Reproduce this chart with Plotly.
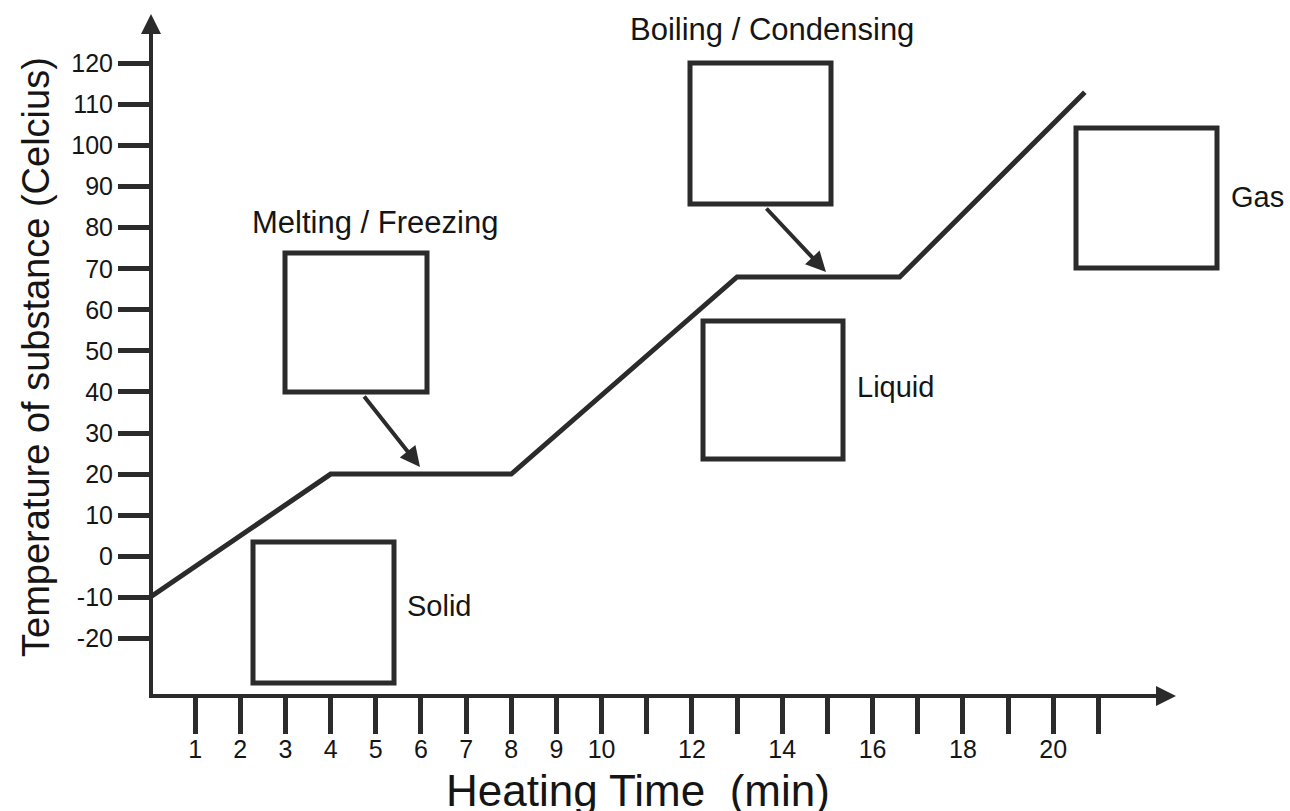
import plotly.graph_objects as go

# ---------------- data ----------------
heating_time = [0, 4, 8, 13, 16.6, 20.7]          # minutes
temperature = [-10, 20, 20, 68, 68, 113]          # degrees Celsius

y_tick_values = [-20, -10, 0, 10, 20, 30, 40, 50, 60, 70, 80, 90, 100, 110, 120]
y_tick_labels = ["-20", "-10", "0", "10", "20", "30", "40", "50", "60", "70", "80",
                 "90", "100", "110", "120"]
x_tick_values = list(range(1, 22))
x_tick_labels = ["1", "2", "3", "4", "5", "6", "7", "8", "9", "10", "", "12", "",
                 "14", "", "16", "", "18", "", "20", ""]

phase_change_labels = ["Melting / Freezing", "Boiling / Condensing"]
state_labels = ["Solid", "Liquid", "Gas"]

# ---------------- layout geometry (pixels) ----------------
W, H = 1290, 811
PLOT_L, PLOT_R, PLOT_T, PLOT_B = 153, 1168, 22, 694
X0_PX, X_PX = 150.0, 45.16      # pixel of t=0, pixels per minute
Y0_PX, Y_PX = 556.25, 4.107     # pixel of 0 C, pixels per degree

def fx(px):
    return (px - X0_PX) / X_PX

def fy(py):
    return (Y0_PX - py) / Y_PX

def paper_x(px):
    return (px - PLOT_L) / (PLOT_R - PLOT_L)

def paper_y(py):
    return (PLOT_B - py) / (PLOT_B - PLOT_T)

INK = "#2b2b2b"
TXT = "#151515"
FONT = "Liberation Sans, Arial, Helvetica, sans-serif"

fig = go.Figure()
fig.add_trace(go.Scatter(
    x=heating_time, y=temperature, mode="lines",
    line=dict(color=INK, width=5), hoverinfo="skip", showlegend=False,
))

# empty answer boxes (pixel rectangles: x0, y0, x1, y1)
boxes_px = [
    (253, 542, 394, 683),   # solid
    (285, 253, 427, 392),   # melting
    (703, 321, 843, 459),   # liquid
    (690, 63, 831, 204),    # boiling
    (1076, 128, 1217, 268), # gas
]
shapes = []
for (x0, y0, x1, y1) in boxes_px:
    shapes.append(dict(type="rect", xref="paper", yref="paper",
                       x0=paper_x(x0), x1=paper_x(x1), y0=paper_y(y1), y1=paper_y(y0),
                       line=dict(color=INK, width=5), fillcolor="rgba(0,0,0,0)"))

annotations = []
# phase change titles
for lab, (px, py) in zip(phase_change_labels, [(375, 222), (772, 30)]):
    annotations.append(dict(x=paper_x(px), y=paper_y(py), xref="paper", yref="paper", text=lab,
                            xanchor="center", yanchor="middle", showarrow=False,
                            font=dict(size=31, color=TXT, family=FONT)))
# state labels
for lab, (px, py) in zip(state_labels, [(405, 606), (855, 387), (1229, 197)]):
    annotations.append(dict(x=paper_x(px), y=paper_y(py), xref="paper", yref="paper", text=lab,
                            xanchor="left", yanchor="middle", showarrow=False,
                            font=dict(size=29, color=TXT, family=FONT)))
# pointer arrows
for (tx, ty, hx, hy) in [(363, 395, 420, 467), (765, 207, 826, 272)]:
    annotations.append(dict(x=fx(hx), y=fy(hy), ax=fx(tx), ay=fy(ty), xref="x", yref="y",
                            axref="x", ayref="y", text="", showarrow=True,
                            arrowhead=2, arrowsize=1, arrowwidth=4, arrowcolor=INK))
# axis arrowheads
annotations.append(dict(x=0, y=1, xref="paper", yref="paper", ax=0, ay=22, text="",
                        showarrow=True, arrowhead=2, arrowsize=1, arrowwidth=4,
                        arrowcolor=INK, yshift=8, xshift=-2))
annotations.append(dict(x=1, y=0, xref="paper", yref="paper", ax=-22, ay=0, text="",
                        showarrow=True, arrowhead=2, arrowsize=1, arrowwidth=4,
                        arrowcolor=INK, xshift=8, yshift=-2))
# axis titles
annotations.append(dict(x=paper_x(638), y=paper_y(790), xref="paper", yref="paper",
                        text="Heating Time  (min)", showarrow=False,
                        xanchor="center", yanchor="middle",
                        font=dict(size=44, color=TXT, family=FONT)))
annotations.append(dict(x=paper_x(36), y=paper_y(357), xref="paper", yref="paper",
                        text="Temperature of substance (Celcius)",
                        textangle=-90, showarrow=False, xanchor="center", yanchor="middle",
                        font=dict(size=38, color=TXT, family=FONT)))

fig.update_layout(
    width=W, height=H, autosize=False,
    margin=dict(l=PLOT_L, r=W - PLOT_R, t=PLOT_T, b=H - PLOT_B, pad=0),
    paper_bgcolor="white", plot_bgcolor="white",
    shapes=shapes, annotations=annotations, showlegend=False,
    font=dict(family=FONT, color=TXT),
)
fig.update_xaxes(
    range=[fx(PLOT_L), fx(PLOT_R)], showgrid=False, zeroline=False,
    showline=True, linewidth=4, linecolor=INK,
    ticks="outside", ticklen=36, tickwidth=5, tickcolor=INK,
    tickmode="array", tickvals=x_tick_values, ticktext=x_tick_labels,
    ticklabelstandoff=-6,
    tickfont=dict(size=25, color=TXT, family=FONT),
)
fig.update_yaxes(
    range=[fy(PLOT_B), fy(PLOT_T)], showgrid=False, zeroline=False,
    showline=True, linewidth=4, linecolor=INK,
    ticks="outside", ticklen=31, tickwidth=5, tickcolor=INK,
    tickmode="array", tickvals=y_tick_values, ticktext=y_tick_labels,
    tickfont=dict(size=25, color=TXT, family=FONT),
)

fig.write_html(
    "out.html",
    config={"displayModeBar": False},
    post_script="document.body.style.margin='0';document.body.style.overflow='hidden';",
)
